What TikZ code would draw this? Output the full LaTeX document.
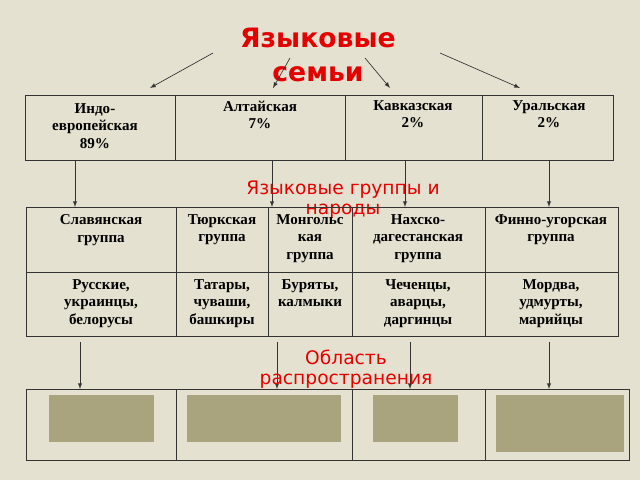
\documentclass[tikz,border=0pt]{standalone}
\usepackage{fontspec}
\setmainfont{Liberation Serif}
\setsansfont{DejaVu Sans}
\begin{document}
\begin{tikzpicture}[x=0.75pt,y=-0.75pt,
 cell/.style={draw=black!80,line width=0.6pt},
 txt/.style={anchor=north,align=center,font=\fontsize{11.3}{13}\selectfont\bfseries},
 red/.style={text=red!90!black,font=\sffamily\fontsize{14}{15}\selectfont,align=center},
 arr/.style={-latex,line width=0.5pt,black!80}]
\definecolor{bg}{HTML}{E4E1D0}
\definecolor{boxc}{HTML}{A9A47E}
\fill[bg] (0,0) rectangle (640,480);
\useasboundingbox (0,0) rectangle (640,480);
% title
\node[text=red!90!black,font=\sffamily\bfseries\fontsize{20}{25}\selectfont,align=center] (title) at (318,55) {Языковые\\ семьи};
% table 1
\draw[cell] (25,95) rectangle (613,160);
\foreach \x in {175,345,482} \draw[cell] (\x,95) -- (\x,160);
\node[txt] (t1) at (95,99) {Индо-\\европейская\\89\%};
\node[txt] (t2) at (260,96) {Алтайская\\7\%};
\node[txt] (t3) at (413,96) {Кавказская\\2\%};
\node[txt] (t4) at (549,96) {Уральская\\2\%};
\coordinate (a1) at (213,53); \coordinate (a2) at (290,58); \coordinate (a3) at (365,58); \coordinate (a4) at (440,53);
\coordinate (b1) at (150,88); \coordinate (b2) at (273,88); \coordinate (b3) at (390,88); \coordinate (b4) at (520,88);
\foreach \i in {1,...,4} \draw[arr] (a\i) -- (b\i);
% arrows 1->2
\foreach \x in {75,272,405,549} \draw[arr] (\x,160) -- (\x,207);
\node[red] (sub1) at (343,200) {Языковые группы и\\ народы};
% table 2
\draw[cell] (26,207) rectangle (618,336);
\draw[cell] (26,272) -- (618,272);
\foreach \x in {176,268,352,485} \draw[cell] (\x,207) -- (\x,336);
\node[txt] (g1) at (101,210) {Славянская\\группа};
\node[txt] (g2) at (222,210) {Тюркская\\группа};
\node[txt] (g3) at (310,210) {Монгольс\\кая\\группа};
\node[txt] (g4) at (418,210) {Нахско-\\дагестанская\\группа};
\node[txt] (g5) at (551,210) {Финно-угорская\\группа};
\node[txt] (p1) at (101,275) {Русские,\\украинцы,\\белорусы};
\node[txt] (p2) at (222,275) {Татары,\\чуваши,\\башкиры};
\node[txt] (p3) at (310,275) {Буряты,\\калмыки};
\node[txt] (p4) at (418,275) {Чеченцы,\\аварцы,\\даргинцы};
\node[txt] (p5) at (551,275) {Мордва,\\удмурты,\\марийцы};
% arrows 2->3
\foreach \x in {80,277,410,549} \draw[arr] (\x,342) -- (\x,389);
% table 3
\draw[cell] (26,389) rectangle (629,460);
\foreach \x in {176,352,485} \draw[cell] (\x,389) -- (\x,460);
\fill[boxc] (49,395) rectangle (154,442);
\fill[boxc] (187,395) rectangle (341,442);
\fill[boxc] (373,395) rectangle (458,442);
\fill[boxc] (496,395) rectangle (624,452);
\node[red] (sub2) at (346,369) {Область\\ распространения};
\end{tikzpicture}
\end{document}
